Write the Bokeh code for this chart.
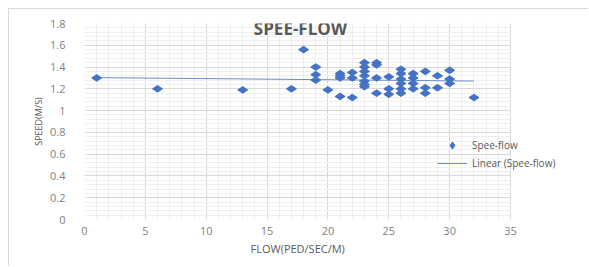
import numpy as np
from bokeh.plotting import figure
from bokeh.models import (FixedTicker, NumeralTickFormatter, Legend, LegendItem,
                          Label, Title, ColumnDataSource)
from bokeh.embed import file_html
from bokeh.resources import INLINE

# data
flow = [1, 6, 13, 17, 18,
        19, 19, 19, 20,
        21, 21, 21, 21,
        22, 22, 22,
        23, 23, 23, 23, 23, 23, 23,
        24, 24, 24, 24,
        25, 25, 25,
        26, 26, 26, 26, 26, 26,
        27, 27, 27, 27,
        28, 28, 28,
        29, 29,
        30, 30, 30,
        32]
speed = [1.30, 1.20, 1.19, 1.20, 1.56,
         1.40, 1.33, 1.28, 1.19,
         1.34, 1.32, 1.30, 1.13,
         1.35, 1.30, 1.12,
         1.44, 1.40, 1.36, 1.32, 1.27, 1.24, 1.22,
         1.44, 1.42, 1.30, 1.16,
         1.31, 1.20, 1.15,
         1.38, 1.34, 1.29, 1.25, 1.20, 1.16,
         1.34, 1.30, 1.25, 1.20,
         1.36, 1.21, 1.16,
         1.32, 1.21,
         1.37, 1.29, 1.25,
         1.12]
x_ticks = [0, 5, 10, 15, 20, 25, 30, 35]
y_ticks = [0, 0.2, 0.4, 0.6, 0.8, 1.0, 1.2, 1.4, 1.6, 1.8]
title_text = "SPEE-FLOW"
x_label = "FLOW(PED/SEC/M)"
y_label = "SPEED(M/S)"
series_name = "Spee-flow"
trend_name = "Linear (Spee-flow)"

BLUE = "#4472C4"
GRID = "#d9d9d9"
MINOR = "#efefef"
TXT = "#7f7f7f"

X_MAX = 35
X_VIEW = 41.49  # frame extends to the right edge so the legend is not clipped

p = figure(width=580, height=258, output_backend="svg", toolbar_location=None,
           x_range=(0, X_VIEW), y_range=(0, 1.8),
           min_border_left=75, min_border_right=0, min_border_top=14, min_border_bottom=48)
p.styles = {"margin-left": "8px", "margin-top": "8px",
            "border-left": "1px solid #d9d9d9", "border-top": "1px solid #d9d9d9"}
p.outline_line_color = None
p.background_fill_color = "white"
p.border_fill_color = "white"

x_minor = list(range(0, X_MAX + 1))
y_minor = [round(i * 0.04, 2) for i in range(0, 46)]
p.xaxis.ticker = FixedTicker(ticks=x_ticks, minor_ticks=x_minor)
p.yaxis.ticker = FixedTicker(ticks=y_ticks, minor_ticks=y_minor)
p.yaxis.formatter = NumeralTickFormatter(format="0.[0]")

for ax in (p.xaxis, p.yaxis):
    ax.axis_line_color = None
    ax.major_tick_line_color = None
    ax.minor_tick_line_color = None
    ax.major_label_text_font = "Open Sans"
    ax.major_label_text_font_size = "11px"
    ax.major_label_text_color = TXT
    ax.axis_label_text_font = "Open Sans"
    ax.axis_label_text_font_style = "normal"
    ax.axis_label_text_color = "#595959"

p.xaxis.bounds = (0, X_MAX)
p.xaxis.major_label_standoff = 1
p.yaxis.major_label_standoff = 13
p.yaxis.axis_label = y_label
p.yaxis.axis_label_text_font_size = "9px"
p.yaxis.axis_label_standoff = 2

p.xgrid.grid_line_color = GRID
p.ygrid.grid_line_color = GRID
p.xgrid.minor_grid_line_color = MINOR
p.ygrid.minor_grid_line_color = MINOR
p.ygrid.cross_bounds = (0, X_MAX)

# linear trendline (least squares fit of the series)
slope, intercept = np.polyfit(flow, speed, 1)
tx = [min(flow), max(flow)]
ty = [intercept + slope * v for v in tx]
trend = p.line(tx, ty, line_color=BLUE, line_width=1, line_alpha=0.8)

src = ColumnDataSource(dict(x=flow, y=speed))
pts = p.scatter("x", "y", source=src, marker="diamond", angle=np.pi / 2, size=10,
                fill_color=BLUE, line_color=BLUE)

legend = Legend(items=[LegendItem(label=series_name, renderers=[pts]),
                       LegendItem(label=trend_name, renderers=[trend])],
                location=(353, 47), padding=0, margin=0, spacing=0,
                glyph_width=30, glyph_height=18, label_height=18, label_standoff=5,
                label_text_font="Open Sans", label_text_font_size="10px",
                label_text_color="#595959",
                background_fill_alpha=0, border_line_color=None)
p.add_layout(legend, "center")

p.add_layout(Label(x=17.75, y=1.755, text=title_text, text_align="center",
                   text_baseline="middle", text_font="Open Sans",
                   text_font_size="17px", text_font_style="bold",
                   text_color="#595959"))

# x-axis title, placed under the 0..35 plotting area
p.add_layout(Title(text=x_label, align="left", offset=166, standoff=2,
                   text_font="Open Sans", text_font_size="11px",
                   text_font_style="normal", text_color="#595959"), "below")

open("out.html", "w").write(file_html(p, INLINE))
